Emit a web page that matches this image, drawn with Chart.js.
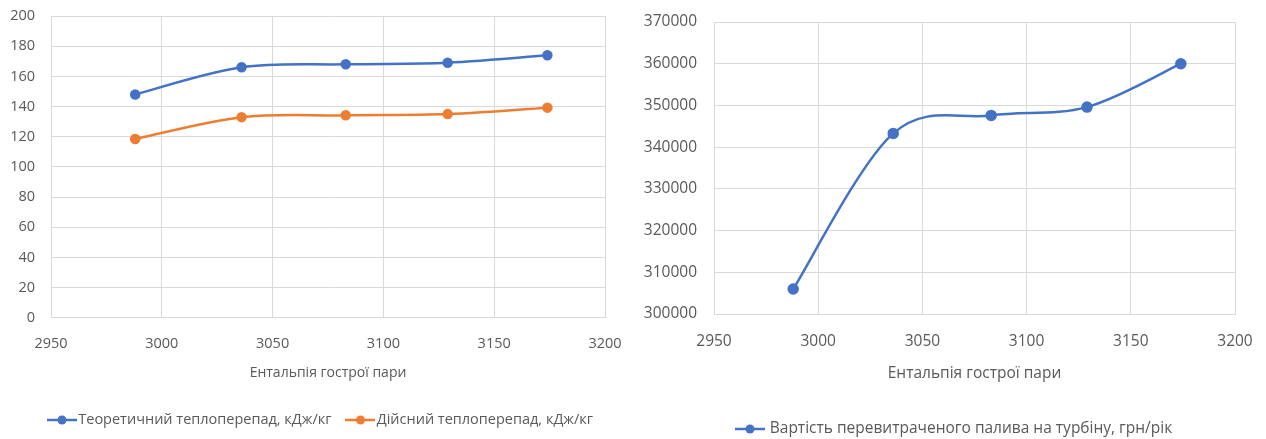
<!DOCTYPE html>
<html>
<head>
<meta charset="utf-8">
<script src="https://cdn.jsdelivr.net/npm/chart.js@4.4.1/dist/chart.umd.min.js"></script>
<style>
body { margin: 0; background: #fff; width: 1266px; height: 439px; overflow: hidden; position: relative; }
.box { position: absolute; top: 0; height: 460px; }
#left { left: 0; width: 630px; }
#right { left: 630px; width: 636px; }
</style>
</head>
<body>
<div class="box" id="left"><canvas id="heatChart"></canvas></div>
<div class="box" id="right"><canvas id="costChart"></canvas></div>
<script>
// Data
const enthalpy = [2988, 3036, 3083, 3129, 3174];
const theoretical = [148, 166, 168, 169, 174];
const actual = [118.5, 133, 134.2, 135, 139.3];
const fuelCost = [306000, 343300, 347600, 349600, 360000];

const xTitle = 'Ентальпія гострої пари';
const labelTheory = 'Теоретичний теплоперепад, кДж/кг';
const labelActual = 'Дійсний теплоперепад, кДж/кг';
const labelCost = 'Вартість перевитраченого палива на турбіну, грн/рік';

const BLUE = '#4472C4';
const ORANGE = '#ED7D31';
const GRID = '#d9d9d9';
const TEXT = '#595959';
const FONT = "'Open Sans', sans-serif";

Chart.defaults.font.family = FONT;
Chart.defaults.color = TEXT;
Chart.defaults.animation = false;

const toPoints = (xs, ys) => xs.map((x, i) => ({ x: x, y: ys[i] }));

// moves the legend row so it starts at a given x (legend is not centred under the plot)
const shiftLegend = {
    id: 'shiftLegend',
    afterLayout(chart, args, opts) {
        const lg = chart.legend;
        if (!lg || opts.startX == null || !lg.lineWidths) return;
        const pad = lg.options.labels.padding;
        const x = (lg.left + pad + lg.right - lg.lineWidths[0]) / 2;
        const dx = opts.startX - x;
        lg.left += dx;
        lg.right += dx;
    }
};

// Excel-like smoothing: catmull-rom control points, (next - prev) / 6 on both sides
const excelSmooth = {
    id: 'excelSmooth',
    afterDatasetsUpdate(chart) {
        chart.data.datasets.forEach((ds, di) => {
            const meta = chart.getDatasetMeta(di);
            const pts = meta.data;
            pts.forEach((p, i) => {
                const prev = pts[i - 1] || p;
                const next = pts[i + 1] || p;
                const tx = (next.x - prev.x) / 6;
                const ty = (next.y - prev.y) / 6;
                p.cp1x = p.x - tx; p.cp1y = p.y - ty;
                p.cp2x = p.x + tx; p.cp2y = p.y + ty;
            });
            if (meta.dataset) meta.dataset._pointsUpdated = true;
        });
    }
};

// legend marker: short line with a dot in the middle (Excel style)
function legendMarker(color) {
    const c = document.createElement('canvas');
    c.width = 30; c.height = 12;
    const ctx = c.getContext('2d');
    ctx.strokeStyle = color;
    ctx.lineWidth = 2.5;
    ctx.beginPath(); ctx.moveTo(0, 6); ctx.lineTo(30, 6); ctx.stroke();
    ctx.fillStyle = color;
    ctx.beginPath(); ctx.arc(15, 6, 4.5, 0, Math.PI * 2); ctx.fill();
    return c;
}

function series(label, data, color, radius) {
    return {
        label: label,
        data: data,
        borderColor: color,
        backgroundColor: color,
        borderWidth: 2.5,
        pointRadius: radius,
        pointHoverRadius: radius,
        pointStyle: 'circle',
        tension: 0.3,
        fill: false
    };
}

function makeOptions(cfg) {
    return {
        responsive: true,
        maintainAspectRatio: false,
        layout: { padding: cfg.padding },
        scales: {
            x: {
                type: 'linear',
                min: 2950, max: 3200,
                grid: { color: GRID, drawTicks: false },
                border: { color: GRID },
                ticks: { stepSize: 50, padding: cfg.xTickPad, font: { size: cfg.tickSize }, callback: v => String(v) },
                title: { display: true, text: xTitle, color: TEXT, font: { size: cfg.titleSize }, padding: { top: 0, bottom: cfg.titlePad } },
                afterFit: s => {
                    s.height = cfg.xHeight;
                    s.paddingLeft = 0; s.paddingRight = 0;
                }
            },
            y: {
                min: cfg.yMin, max: cfg.yMax,
                grid: { color: GRID, drawTicks: false },
                border: { color: GRID },
                ticks: { stepSize: cfg.yStep, padding: cfg.yTickPad, font: { size: cfg.tickSize }, callback: v => String(v) },
                afterFit: s => {
                    s.width = cfg.yWidth;
                    s.paddingTop = 0; s.paddingBottom = 0;
                }
            }
        },
        plugins: {
            shiftLegend: { startX: cfg.legendX },
            legend: {
                position: 'bottom',
                labels: {
                    usePointStyle: true,
                    pointStyleWidth: cfg.boxW,
                    color: TEXT,
                    font: { size: cfg.legendSize },
                    padding: cfg.legendPad,
                    generateLabels: chart => chart.data.datasets.map((ds, i) => ({
                        text: ds.label,
                        pointStyle: legendMarker(ds.borderColor),
                        fillStyle: ds.borderColor,
                        strokeStyle: ds.borderColor,
                        lineWidth: 0,
                        fontColor: TEXT,
                        datasetIndex: i
                    }))
                }
            },
            tooltip: { enabled: false }
        }
    };
}

new Chart(document.getElementById('heatChart'), {
    type: 'line',
    data: {
        datasets: [
            series(labelTheory, toPoints(enthalpy, theoretical), BLUE, 4),
            series(labelActual, toPoints(enthalpy, actual), ORANGE, 4)
        ]
    },
    options: makeOptions({
        padding: { left: 0, right: 25, top: 16, bottom: 22.8 },
        yMin: 0, yMax: 200, yStep: 20,
        yWidth: 51, yTickPad: 16,
        xHeight: 74.8, xTickPad: 17, titlePad: 11.5,
        tickSize: 14.5, titleSize: 14, legendSize: 14.5,
        boxW: 18, legendPad: 20, legendX: 53
    }),
    plugins: [shiftLegend, excelSmooth]
});

new Chart(document.getElementById('costChart'), {
    type: 'line',
    data: {
        datasets: [
            series(labelCost, toPoints(enthalpy, fuelCost), BLUE, 4.5)
        ]
    },
    options: makeOptions({
        padding: { left: 0, right: 31, top: 22, bottom: 13.25 },
        yMin: 300000, yMax: 370000, yStep: 10000,
        yWidth: 84, yTickPad: 17,
        xHeight: 97.25, xTickPad: 18, titlePad: 28,
        tickSize: 15.5, titleSize: 15.5, legendSize: 15.5,
        boxW: 24, legendPad: 10, legendX: 108
    }),
    plugins: [shiftLegend, excelSmooth]
});
</script>
</body>
</html>
